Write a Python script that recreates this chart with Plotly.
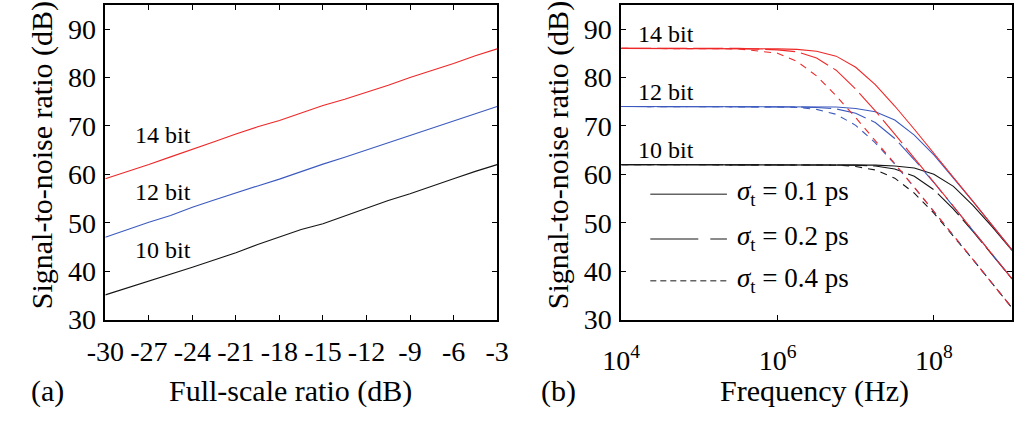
import plotly.graph_objects as go

# ---------- data: panel (a) ----------
fs_ratio = [-30, -28.5, -27, -25.5, -24, -22.5, -21, -19.5, -18, -16.5, -15,
            -13.5, -12, -10.5, -9, -7.5, -6, -4.5, -3]
snr_a_14 = [59.1, 60.5, 62.0, 63.6, 65.1, 66.7, 68.3, 69.8, 71.1, 72.6, 74.2,
            75.5, 76.9, 78.4, 80.0, 81.4, 82.9, 84.5, 85.9]
snr_a_12 = [47.0, 48.6, 50.1, 51.5, 53.2, 54.7, 56.2, 57.6, 59.0, 60.6, 62.1,
            63.5, 65.0, 66.5, 68.0, 69.5, 70.9, 72.5, 74.0]
snr_a_10 = [35.1, 36.5, 38.0, 39.4, 40.8, 42.3, 43.8, 45.5, 47.1, 48.6, 49.8,
            51.4, 53.0, 54.6, 56.0, 57.6, 59.1, 60.6, 62.0]
a_xticks = [-30, -27, -24, -21, -18, -15, -12, -9, -6, -3]
a_xticklabels = ["-30", "-27", "-24", "-21", "-18", "-15", "-12", "-9", "-6", "-3"]
y_ticks = [30, 40, 50, 60, 70, 80, 90]

# ---------- data: panel (b) ----------
freq = [1e4, 3.16e4, 1e5, 3.16e5, 1e6, 1.78e6, 3.16e6, 5.62e6, 1e7, 1.78e7,
        3.16e7, 5.62e7, 1e8, 1.78e8, 3.16e8, 5.62e8, 1e9]
b14_s01 = [86.0, 86.0, 86.0, 86.0, 85.9, 85.8, 85.4, 84.4, 82.1, 78.5, 74.1, 69.3, 64.4, 59.4, 54.4, 49.4, 44.4]
b14_s02 = [86.0, 86.0, 86.0, 86.0, 85.7, 85.3, 84.0, 81.5, 77.6, 73.1, 68.3, 63.4, 58.4, 53.4, 48.4, 43.4, 38.4]
b14_s04 = [86.0, 86.0, 86.0, 85.9, 85.0, 83.3, 80.3, 76.2, 71.7, 67.0, 62.2, 57.3, 52.4, 47.4, 42.4, 37.4, 32.4]
b12_s01 = [74.0, 74.0, 74.0, 74.0, 74.0, 74.0, 74.0, 73.9, 73.6, 72.9, 71.2, 68.1, 64.0, 59.3, 54.4, 49.4, 44.4]
b12_s02 = [74.0, 74.0, 74.0, 74.0, 74.0, 73.9, 73.8, 73.5, 72.6, 70.7, 67.4, 63.0, 58.3, 53.4, 48.4, 43.4, 38.4]
b12_s04 = [74.0, 74.0, 74.0, 74.0, 73.9, 73.8, 73.4, 72.4, 70.1, 66.5, 62.1, 57.3, 52.4, 47.4, 42.4, 37.4, 32.4]
b10_s01 = [62.0, 62.0, 62.0, 62.0, 62.0, 62.0, 62.0, 62.0, 62.0, 61.9, 61.7, 61.3, 60.0, 57.5, 53.6, 49.1, 44.3]
b10_s02 = [62.0, 62.0, 62.0, 62.0, 62.0, 62.0, 62.0, 62.0, 61.9, 61.7, 61.1, 59.6, 56.8, 52.8, 48.2, 43.3, 38.4]
b10_s04 = [62.0, 62.0, 62.0, 62.0, 62.0, 62.0, 62.0, 61.9, 61.6, 60.9, 59.2, 56.1, 52.0, 47.3, 42.4, 37.4, 32.4]
b_xticks = [1e4, 1e6, 1e8]
b_xticklabels = ["10<sup>4</sup>", "10<sup>6</sup>", "10<sup>8</sup>"]
sigma_labels = ["0.1", "0.2", "0.4"]
bit_labels = ["14 bit", "12 bit", "10 bit"]

RED = "rgb(238,40,40)"
BLUE = "rgb(60,90,190)"
BLACK = "rgb(20,20,20)"
GRAY = "rgb(100,100,100)"
FONT = "Liberation Serif, Times New Roman, serif"
DASH_02 = "30px,6px"
DASH_04 = "7px,6px"

W, H = 1025, 427
def px(x):
    return x / W
def py(y):
    return 1 - y / H

fig = go.Figure()

# panel (a)
for ys, c in [(snr_a_10, BLACK), (snr_a_12, BLUE), (snr_a_14, RED)]:
    fig.add_trace(go.Scatter(x=fs_ratio, y=ys, mode="lines", line=dict(color=c, width=1.1),
                             xaxis="x", yaxis="y", showlegend=False, hoverinfo="skip"))

# panel (b)
groups = [
    (BLACK, [b10_s01, b10_s02, b10_s04]),
    (BLUE, [b12_s01, b12_s02, b12_s04]),
    (RED, [b14_s01, b14_s02, b14_s04]),
]
dashes = ["solid", DASH_02, DASH_04]
for c, series in groups:
    for ys, d in zip(series, dashes):
        fig.add_trace(go.Scatter(x=freq, y=ys, mode="lines", line=dict(color=c, width=1.1, dash=d),
                                 xaxis="x2", yaxis="y2", showlegend=False, hoverinfo="skip"))

axis_common = dict(showline=True, linecolor="black", linewidth=1.6, mirror="ticks",
                   ticks="inside", ticklen=5, tickcolor="black", tickwidth=1,
                   showgrid=False, zeroline=False,
                   tickfont=dict(family=FONT, size=28, color="black"))

fig.update_layout(
    width=W, height=H,
    margin=dict(l=0, r=0, t=0, b=0),
    paper_bgcolor="white", plot_bgcolor="white",
    xaxis=dict(domain=[px(89), px(493)], range=[-30, -3], tickvals=a_xticks,
               ticktext=a_xticklabels, anchor="y", ticklabelstandoff=6, **axis_common),
    yaxis=dict(domain=[py(332), py(5)], range=[30, 95], tickvals=y_ticks, anchor="x",
               ticklabelstandoff=2, **axis_common),
    xaxis2=dict(domain=[px(621), px(1024)], type="log", range=[4, 9], tickvals=b_xticks,
                ticktext=b_xticklabels, anchor="y2", ticklabelstandoff=15, **axis_common),
    yaxis2=dict(domain=[py(332), py(5)], range=[30, 95], tickvals=y_ticks, anchor="x2",
                ticklabelstandoff=2, **axis_common),
)

ann = []
tfont = dict(family=FONT, size=30, color="black")
# axis titles
ann.append(dict(text="Signal-to-noise ratio (dB)", x=px(24), y=py(161), xref="paper", yref="paper",
                textangle=-90, showarrow=False, font=tfont, xanchor="center", yanchor="middle"))
ann.append(dict(text="Signal-to-noise ratio (dB)", x=px(556), y=py(161), xref="paper", yref="paper",
                textangle=-90, showarrow=False, font=tfont, xanchor="center", yanchor="middle"))
ann.append(dict(text="Full-scale ratio (dB)", x=px(280), y=py(406), xref="paper", yref="paper",
                showarrow=False, font=tfont, xanchor="center", yanchor="middle"))
ann.append(dict(text="Frequency (Hz)", x=px(820), y=py(406), xref="paper", yref="paper",
                showarrow=False, font=tfont, xanchor="center", yanchor="middle"))
ann.append(dict(text="(a)", x=px(29), y=py(406), xref="paper", yref="paper",
                showarrow=False, font=tfont, xanchor="center", yanchor="middle"))
ann.append(dict(text="(b)", x=px(556), y=py(406), xref="paper", yref="paper",
                showarrow=False, font=tfont, xanchor="center", yanchor="middle"))

bfont = dict(family=FONT, size=24, color="black")
for lab, yv in zip(bit_labels, [68.2, 56.3, 44.4]):
    ann.append(dict(text=lab, x=-28.1, y=yv, xref="x", yref="y", showarrow=False,
                    font=bfont, xanchor="left", yanchor="middle"))
for lab, yv in zip(bit_labels, [88.9, 77.0, 65.1]):
    ann.append(dict(text=lab, x=4.19, y=yv, xref="x2", yref="y2", showarrow=False,
                    font=bfont, xanchor="left", yanchor="middle"))

# manual legend for sigma values
shapes = []
leg_y = [201.7, 248.3, 291.7]
leg_dash = {"solid": "solid", DASH_02: "48px,12px", DASH_04: "6px,4px"}
for lab, d, yy in zip(sigma_labels, dashes, leg_y):
    shapes.append(dict(type="line", xref="paper", yref="paper", x0=px(651), x1=px(730),
                       y0=py(yy), y1=py(yy), line=dict(color=GRAY, width=1.5, dash=leg_dash[d])))
    ann.append(dict(text="<i>σ</i><sub>t</sub> = " + lab + " ps", x=px(738), y=py(yy - 1),
                    xref="paper", yref="paper", showarrow=False,
                    font=dict(family=FONT, size=27, color="black"),
                    xanchor="left", yanchor="middle"))

fig.update_layout(annotations=ann, shapes=shapes)
fig.write_html("out.html")
